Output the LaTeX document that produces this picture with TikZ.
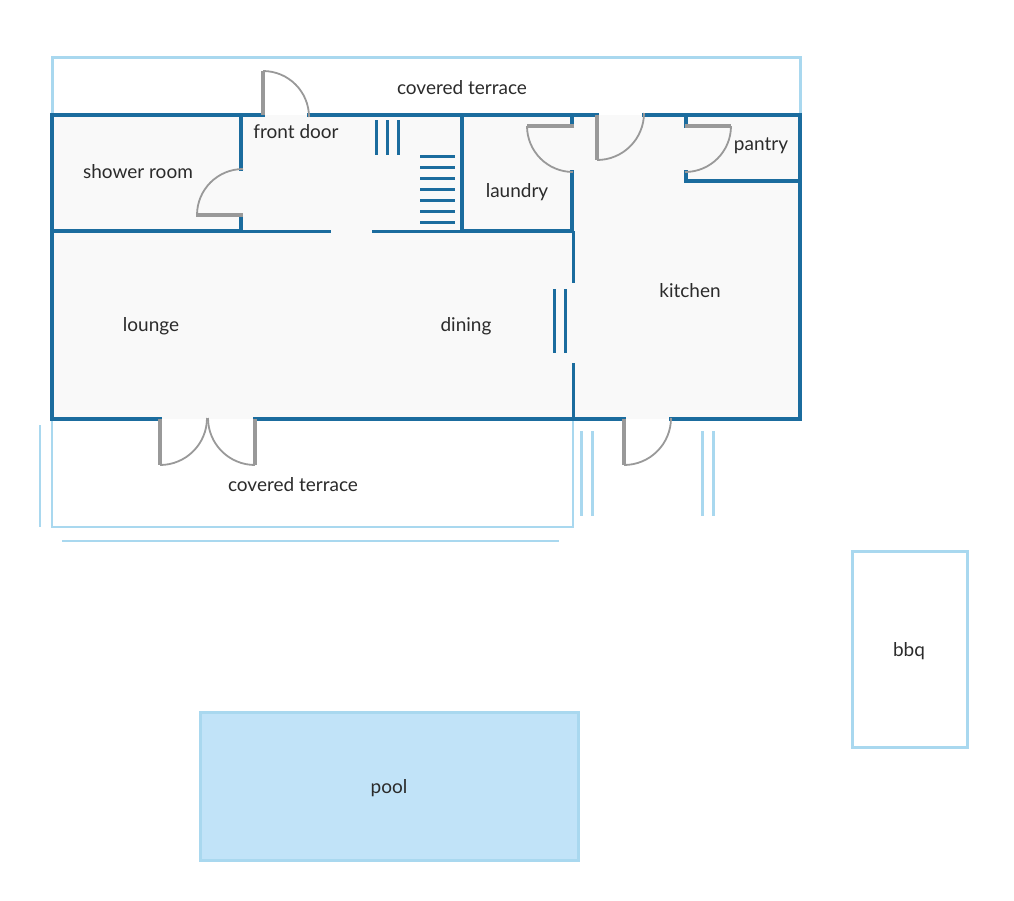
\documentclass[tikz,border=0pt]{standalone}
\usepackage{fontspec}
\setmainfont{Lato}
\definecolor{wallblue}{HTML}{1B6C9E}
\definecolor{paleblue}{HTML}{A9D8EF}
\definecolor{poolblue}{HTML}{C1E3F8}
\definecolor{doorgrey}{HTML}{999999}
\definecolor{floorgrey}{HTML}{F9F9F9}
\definecolor{labelgrey}{HTML}{2B2B2B}
\tikzset{
	wall/.style={draw=wallblue, line width=4.5pt, line cap=rect, line join=miter},
	thinwall/.style={draw=wallblue, line width=3pt},
	outline/.style={draw=paleblue, line width=3pt},
	slimline/.style={draw=paleblue, line width=2.5pt},
	leaf/.style={draw=doorgrey, line width=4pt},
	swing/.style={draw=doorgrey, line width=1.8pt},
	room/.style={text=labelgrey, font=\fontsize{19}{21}\selectfont}
}
\begin{document}
\begin{tikzpicture}[x=1pt, y=-1pt]
		\useasboundingbox (0,0) rectangle (1014,900);
	% Suelo
		\fill[floorgrey] (52,115) rectangle (800,419);
	% Terrazas
		\draw[outline] (52,115) -- (52,57) -- (800,57) -- (800,115);
		\draw[slimline] (52,419) -- (52,527) -- (573,527) -- (573,419);
		\draw[slimline] (40,425) -- (40,527);
		\draw[slimline] (62,541) -- (559,541);
		\foreach \x in {581,592,702,713}
			\draw[outline] (\x,431) -- (\x,516);
	% Muros exteriores
		\draw[wall] (263,115) -- (52,115) -- (52,419) -- (160,419);
		\draw[wall] (309,115) -- (597,115);
		\draw[wall] (644,115) -- (800,115) -- (800,419) -- (671,419);
		\draw[wall] (255,419) -- (624,419);
	% Muros interiores
		\draw[wall] (241,115) -- (241,169);
		\draw[wall] (241,215) -- (241,231) -- (52,231);
		\draw[thinwall] (241,231) -- (331,231);
		\draw[thinwall] (372,231) -- (462,231);
		\draw[wall] (462,115) -- (462,231) -- (572,231);
		\draw[wall] (572,115) -- (572,126);
		\draw[wall] (572,172) -- (572,231);
		\draw[thinwall] (573,231) -- (573,283);
		\draw[thinwall] (573,363) -- (573,419);
		\draw[wall] (686,115) -- (686,126);
		\draw[wall] (686,172) -- (686,181) -- (800,181);
	% Correderas
		\foreach \x in {376,387,398}
			\draw[thinwall] (\x,120) -- (\x,155);
		\foreach \x in {554,565}
			\draw[thinwall] (\x,289) -- (\x,353);
	% Escalera
		\foreach \y in {156,167,178,189,200,211,222}
			\draw[thinwall] (420,\y) -- (455,\y);
	% Puertas
		\draw[leaf] (263,115) -- (263,71);
		\draw[swing] (263,71) arc[start angle=-90, end angle=0, radius=46];
		\draw[leaf] (243,215) -- (196,215);
		\draw[swing] (243,169) arc[start angle=-90, end angle=-180, radius=46];
		\draw[leaf] (574,126) -- (527,126);
		\draw[swing] (527,126) arc[start angle=180, end angle=90, radius=46];
		\draw[leaf] (597,115) -- (597,160);
		\draw[swing] (597,160) arc[start angle=90, end angle=0, radius=47];
		\draw[leaf] (685,126) -- (731,126);
		\draw[swing] (731,126) arc[start angle=0, end angle=90, radius=46];
		\draw[leaf] (160,419) -- (160,465);
		\draw[swing] (160,465) arc[start angle=90, end angle=0, radius=47];
		\draw[leaf] (255,419) -- (255,465);
		\draw[swing] (255,465) arc[start angle=90, end angle=180, radius=47];
		\draw[leaf] (624,419) -- (624,465);
		\draw[swing] (624,465) arc[start angle=90, end angle=0, radius=47];
	% Piscina y barbacoa
		\draw[outline, fill=poolblue] (200,712) rectangle (578,860);
		\draw[outline] (852,551) rectangle (967,747);
	% Etiquetas
		\node[room] (terraceback) at (462,88) {covered terrace};
		\node[room] (frontdoor) at (296,132) {front door};
		\node[room] (shower) at (138,172) {shower room};
		\node[room] (laundry) at (517,192) {laundry};
		\node[room] (pantry) at (761,146) {pantry};
		\node[room] (kitchen) at (690,291) {kitchen};
		\node[room] (lounge) at (151,326) {lounge};
		\node[room] (dining) at (466,326) {dining};
		\node[room] (terracefront) at (293,485) {covered terrace};
		\node[room] (bbq) at (909,651) {bbq};
		\node[room] (pool) at (389,788) {pool};
\end{tikzpicture}
\end{document}
